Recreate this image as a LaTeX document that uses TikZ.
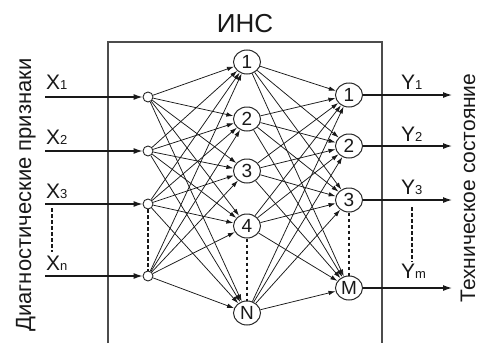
\documentclass[tikz,border=0pt]{standalone}
\usepackage{fontspec}
\setmainfont{Liberation Sans}
\usetikzlibrary{arrows.meta,shapes.geometric}
\newcommand\lsub[1]{{\fontsize{13}{13}\selectfont #1}}
\begin{document}
\begin{tikzpicture}[x=1pt,y=-1pt,
 every node/.style={text=black!90},
 neuron/.style={ellipse,draw=black!85,line width=1pt,minimum width=27pt,minimum height=24pt,inner sep=0pt,font=\fontsize{19}{19}\selectfont},
 inp/.style={circle,draw=black!85,line width=0.9pt,minimum size=10pt,inner sep=0pt},
 lbl/.style={font=\fontsize{21}{21}\selectfont,anchor=base west,inner sep=0pt},
 link/.style={draw=black!90,line width=0.75pt,-{Latex[length=7pt,width=4.5pt]}},
 io/.style={draw=black!90,line width=1.2pt,-{Latex[length=9pt,width=6pt]}},
 dots/.style={draw=black!90,line width=1.6pt,dash pattern=on 3.5pt off 2.5pt},
 side/.style={rotate=90,anchor=base,inner sep=0pt}]
\useasboundingbox (0,0) rectangle (482,343);
\fill[white] (0,0) rectangle (482,343);
% box and title
\draw[black!70,line width=1.1pt] (108,343) -- (108,42) -- (382,42) -- (382,343);
\node[font=\fontsize{26}{26}\selectfont] (title) at (245,24) {ИНС};
% side texts
\node[side,font=\fontsize{22}{22}\selectfont] (lefttext) at (31,195) {Диагностические признаки};
\node[side,font=\fontsize{21}{21}\selectfont] (righttext) at (475,188) {Техническое состояние};
% input circles
\node[inp] (i1) at (148,97) {};
\node[inp] (i2) at (148,151) {};
\node[inp] (i3) at (148,204) {};
\node[inp] (in) at (148,276) {};
% hidden
\node[neuron] (h1) at (247,62) {1};
\node[neuron] (h2) at (247,119) {2};
\node[neuron] (h3) at (247,171) {3};
\node[neuron] (h4) at (247,226) {4};
\node[neuron] (hN) at (247,313) {N};
% outputs
\node[neuron] (o1) at (349,95) {1};
\node[neuron] (o2) at (349,146) {2};
\node[neuron] (o3) at (349,200) {3};
\node[neuron] (oM) at (349,288) {M};
% input arrows
\coordinate (s1) at (45,97);
\coordinate (s2) at (45,151);
\coordinate (s3) at (45,204);
\coordinate (sn) at (45,276);
\draw[io] (s1) -- (i1);
\draw[io] (s2) -- (i2);
\draw[io] (s3) -- (i3);
\draw[io] (sn) -- (in);
\node[lbl] (x1) at (46,89) {X\lsub{1}};
\node[lbl] (x2) at (46,144) {X\lsub{2}};
\node[lbl] (x3) at (46,198) {X\lsub{3}};
\node[lbl] (xn) at (46,270) {X\lsub{n}};
% output arrows
\coordinate (e1) at (452,95);
\coordinate (e2) at (452,146);
\coordinate (e3) at (452,200);
\coordinate (eM) at (452,288);
\draw[io] (o1) -- (e1);
\draw[io] (o2) -- (e2);
\draw[io] (o3) -- (e3);
\draw[io] (oM) -- (eM);
\node[lbl] (y1) at (401,89) {Y\lsub{1}};
\node[lbl] (y2) at (401,141) {Y\lsub{2}};
\node[lbl] (y3) at (401,194) {Y\lsub{3}};
\node[lbl] (ym) at (401,278) {Y\lsub{m}};
% connections
\foreach \a in {i1,i2,i3,in}
  \foreach \b in {h1,h2,h3,h4,hN}
    \draw[link] (\a) -- (\b);
\foreach \a in {h1,h2,h3,h4,hN}
  \foreach \b in {o1,o2,o3,oM}
    \draw[link] (\a) -- (\b);
% dotted continuation lines
\coordinate (dx1) at (52,208);
\coordinate (dx2) at (52,252);
\draw[dots] (dx1) -- (dx2);
\draw[dots] (i3) -- (in);
\draw[dots] (h4) -- (hN);
\draw[dots] (o3) -- (oM);
\coordinate (dy1) at (412,207);
\coordinate (dy2) at (412,262);
\draw[dots] (dy1) -- (dy2);
\end{tikzpicture}
\end{document}
